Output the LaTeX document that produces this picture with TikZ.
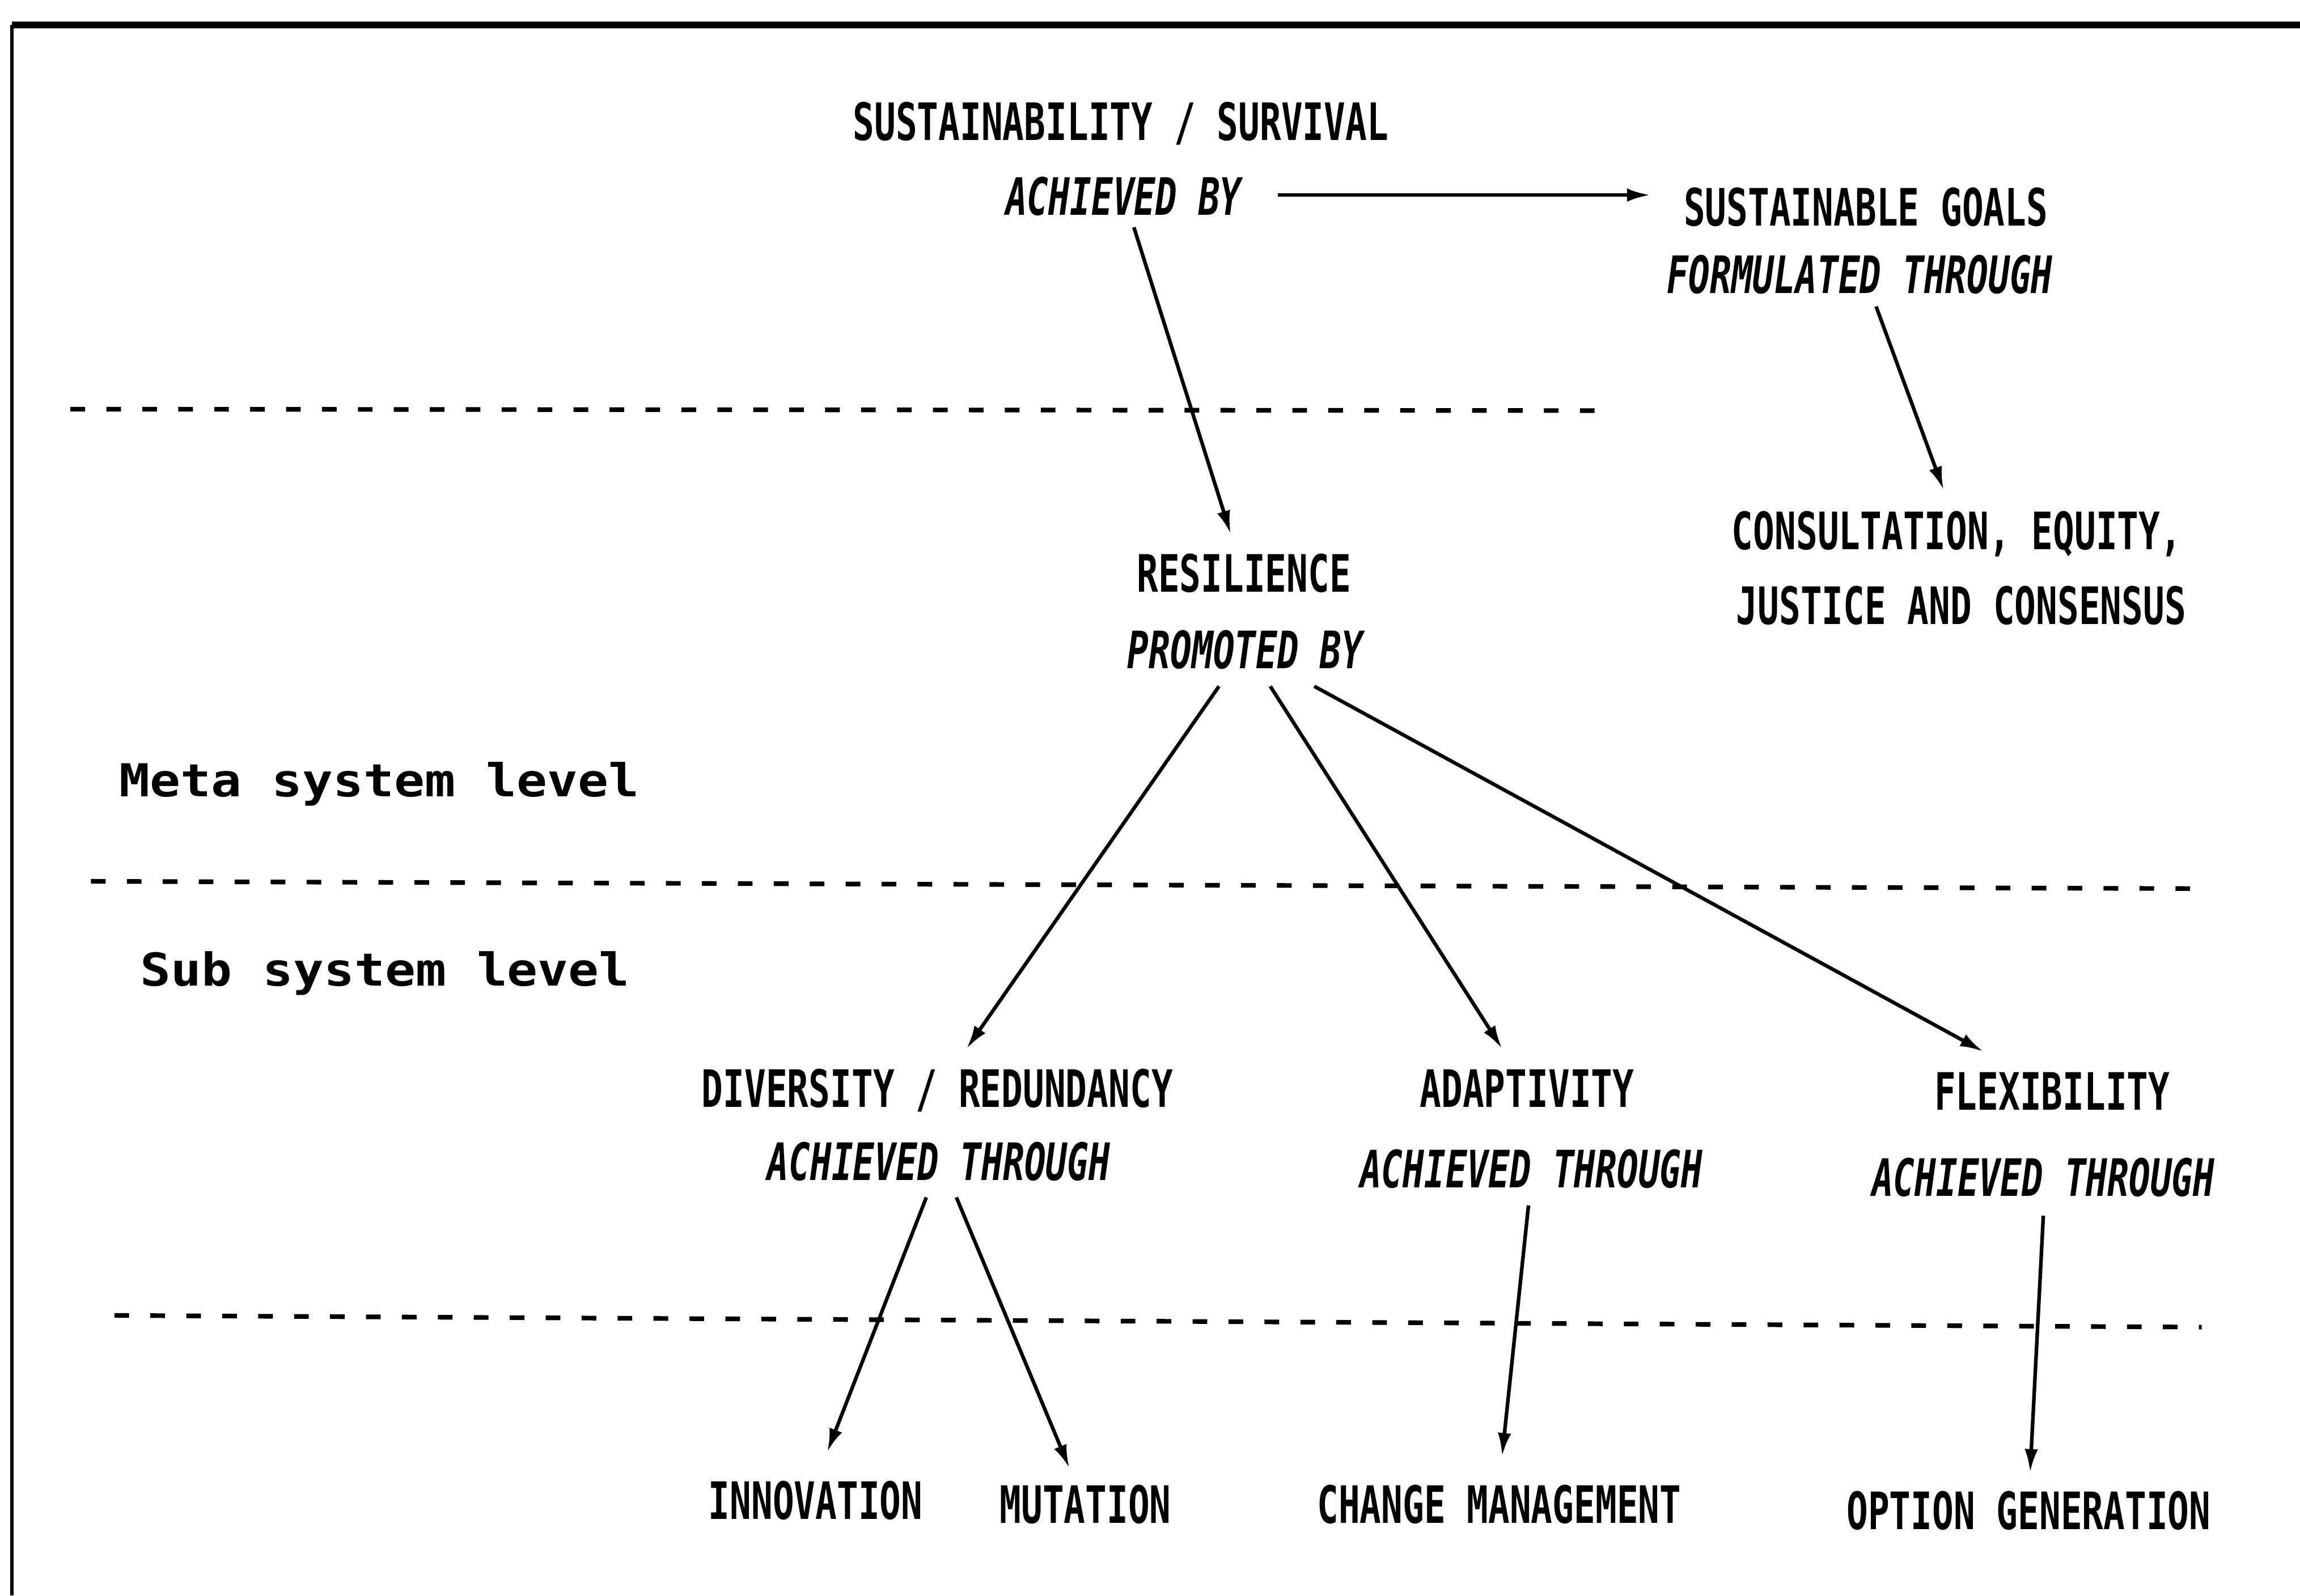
\documentclass[tikz,border=0pt]{standalone}
\usepackage{fontspec}
\usetikzlibrary{calc,arrows.meta}
\newfontfamily\capfont[FakeStretch=0.69]{DejaVu Sans Mono}
\newfontfamily\lvlfont[FakeStretch=1.12]{DejaVu Sans Mono}
\tikzset{
  captext/.style={inner sep=0pt, font=\capfont\bfseries\fontsize{10}{12}\selectfont, text height=7.3pt, text depth=0pt},
  ittext/.style={inner sep=0pt, font=\capfont\bfseries\itshape\fontsize{10}{12}\selectfont, text height=7.3pt, text depth=0pt},
  lvltext/.style={inner sep=0pt, font=\lvlfont\bfseries\fontsize{8.8}{10}\selectfont, text height=6.4pt, text depth=0pt},
  arr/.style={line width=0.7pt, -{Latex[length=4.5pt,width=2.6pt]}},
  levelline/.style={line width=0.9pt, dash pattern=on 0.1cm off 0.145cm},
  frameline/.style={line width=0.7pt}
}
\begin{document}
\begin{tikzpicture}
\useasboundingbox (0,0) rectangle (15.68,-10.88);
\fill[white] (0,0) rectangle (15.68,-10.88);
% frame
\draw[frameline, line width=1.3pt] (0.08,-0.17) -- (15.68,-0.17);
\draw[frameline] (0.08,-0.17) -- (0.08,-10.88);
% level separators
\draw[levelline] (0.48,-2.79) -- (11.00,-2.80);
\draw[levelline] (0.62,-6.01) -- (15.05,-6.06);
\draw[levelline] (0.78,-8.97) -- (15.01,-9.05);
% nodes
\node[captext] (sus) at (7.64,-0.83) {SUSTAINABILITY / SURVIVAL};
\node[ittext] (ach) at (7.66,-1.34) {ACHIEVED BY};
\node[captext] (goals) at (12.72,-1.41) {SUSTAINABLE GOALS};
\node[ittext] (form) at (12.68,-1.87) {FORMULATED THROUGH};
\node[captext] (res) at (8.48,-3.91) {RESILIENCE};
\node[ittext] (prom) at (8.49,-4.43) {PROMOTED BY};
\node[captext] (cons) at (13.34,-3.62) {CONSULTATION, EQUITY,};
\node[captext] (just) at (13.37,-4.13) {JUSTICE AND CONSENSUS};
\node[lvltext] (meta) at (2.585,-5.32) {Meta system level};
\node[lvltext] (sub) at (2.625,-6.61) {Sub system level};
\node[captext] (div) at (6.39,-7.42) {DIVERSITY / REDUNDANCY};
\node[ittext] (divt) at (6.40,-7.92) {ACHIEVED THROUGH};
\node[captext] (adapt) at (10.41,-7.42) {ADAPTIVITY};
\node[ittext] (adaptt) at (10.44,-7.97) {ACHIEVED THROUGH};
\node[captext] (flex) at (13.99,-7.44) {FLEXIBILITY};
\node[ittext] (flext) at (13.93,-8.03) {ACHIEVED THROUGH};
\node[captext] (innov) at (5.56,-10.23) {INNOVATION};
\node[captext] (mut) at (7.40,-10.26) {MUTATION};
\node[captext] (change) at (10.22,-10.26) {CHANGE MANAGEMENT};
\node[captext] (option) at (13.83,-10.30) {OPTION GENERATION};
% connectors
\draw[arr] ($(ach)+(1.05,0.01)$) -- ($(goals)+(-1.47,0.08)$);
\draw[arr] ($(ach)+(0.07,-0.21)$) -- ($(res)+(-0.09,0.27)$);
\draw[arr] ($(form)+(0.11,-0.22)$) -- ($(cons)+(-0.09,0.28)$);
\draw[arr] ($(prom)+(-0.18,-0.25)$) -- ($(div)+(0.20,0.27)$);
\draw[arr] ($(prom)+(0.17,-0.25)$) -- ($(adapt)+(-0.17,0.27)$);
\draw[arr] ($(prom)+(0.47,-0.25)$) -- ($(flex)+(-0.47,0.27)$);
\draw[arr] ($(divt)+(-0.085,-0.245)$) -- ($(innov)+(0.08,0.33)$);
\draw[arr] ($(divt)+(0.12,-0.245)$) -- ($(mut)+(-0.11,0.25)$);
\draw[arr] ($(adaptt)+(-0.02,-0.25)$) -- ($(change)+(0.02,0.33)$);
\draw[arr] ($(flext)+(0,-0.26)$) -- ($(option)+(0.01,0.26)$);
\end{tikzpicture}
\end{document}
